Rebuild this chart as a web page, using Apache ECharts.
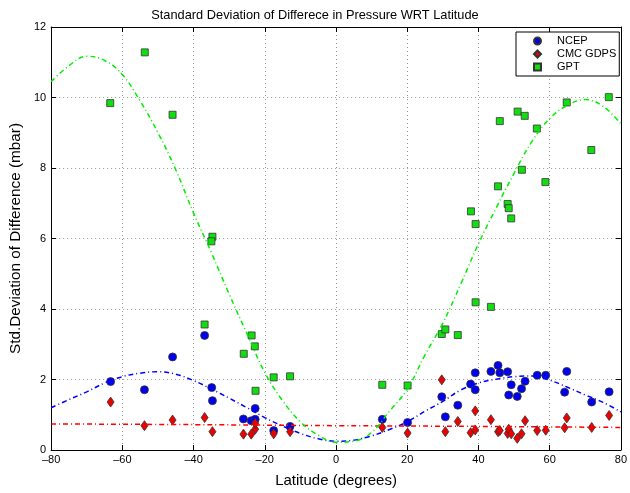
<!DOCTYPE html>
<html>
<head>
<meta charset="utf-8">
<script src="https://cdn.jsdelivr.net/npm/echarts@6/dist/echarts.min.js"></script>
<style>html,body{margin:0;padding:0;background:#fff}#c{width:630px;height:493px}</style>
</head>
<body>
<div id="c"></div>
<script>
// ---- data ----
var ncepLat = [-63.3,-53.8,-45.9,-36.9,-34.9,-34.7,-26.0,-23.8,-22.7,-22.7,-17.5,-12.9,13.0,20.1,29.7,30.7,34.2,37.8,39.1,39.1,43.5,45.5,46.0,48.2,48.5,49.2,50.9,52.1,53.1,56.5,58.9,64.2,64.8,71.8,76.7];
var ncepVal = [1.94,1.71,2.64,3.25,1.77,1.40,0.88,0.83,0.87,1.18,0.55,0.67,0.87,0.78,1.51,0.94,1.27,1.87,1.71,2.19,2.23,2.40,2.19,2.22,1.56,1.85,1.52,1.74,1.95,2.12,2.12,1.64,2.23,1.36,1.65];
var cmcLat = [-63.3,-53.8,-45.9,-36.9,-34.7,-26.0,-23.8,-22.7,-22.7,-17.5,-12.9,13.0,20.1,29.7,30.7,34.2,37.8,39.1,39.1,43.5,45.5,46.0,48.2,48.5,49.2,50.9,52.1,53.1,56.5,58.9,64.2,64.8,71.8,76.7];
var cmcVal = [1.36,0.69,0.85,0.92,0.52,0.45,0.45,0.59,0.76,0.46,0.52,0.64,0.48,1.99,0.52,0.81,0.49,0.57,1.11,0.86,0.52,0.55,0.47,0.59,0.46,0.33,0.46,0.83,0.55,0.56,0.63,0.91,0.64,0.98];
var gptLat = [-63.4,-53.7,-45.9,-36.9,-34.7,-35.0,-25.9,-23.7,-22.8,-22.6,-17.5,-12.9,13.0,20.1,29.7,30.7,34.2,37.9,39.2,39.2,43.5,45.5,46.0,48.2,48.5,49.2,51.0,52.2,53.0,56.4,58.8,64.8,71.7,76.6];
var gptVal = [9.84,11.28,9.51,3.56,6.05,5.92,2.73,3.25,2.94,1.68,2.06,2.09,1.85,1.83,3.29,3.42,3.26,6.77,6.41,4.19,4.06,7.48,9.33,6.98,6.86,6.57,9.60,7.95,9.48,9.12,7.60,9.86,8.51,10.01];

// fitted curves
var fitLat = [-80,-75,-70,-65,-60,-55,-50,-45,-40,-35,-30,-25,-20,-15,-10,-5,0,5,10,15,20,25,30,35,40,45,50,55,60,65,70,75,80];
var gptFit = [10.45,10.9,11.17,11.05,10.65,9.9,9.0,7.95,6.72,5.6,4.42,3.3,2.2,1.4,0.8,0.42,0.22,0.25,0.5,1.1,1.72,2.7,3.6,4.7,5.85,6.87,7.85,8.75,9.4,9.78,9.94,9.75,9.25];
var ncepFit = [1.2,1.43,1.65,1.9,2.08,2.18,2.22,2.15,1.97,1.73,1.47,1.2,0.92,0.68,0.47,0.32,0.25,0.28,0.4,0.58,0.8,1.1,1.38,1.7,1.9,2.01,2.08,2.1,1.98,1.78,1.56,1.35,1.08];
var cmcFitLat = [-80,-40,0,40,80];
var cmcFit = [0.74,0.72,0.69,0.67,0.64];

var xTicks = [-80,-60,-40,-20,0,20,40,60,80];
var yTicks = [0,2,4,6,8,10,12];

function pairs(a,b){return a.map(function(v,i){return [v,b[i]];});}

var chart = echarts.init(document.getElementById('c'), null, {renderer:'canvas'});
var FONT = 'Liberation Sans, Arial, Helvetica, sans-serif';
var dash = [5,3,1,3];
var axisCommon = {
  axisLine:{show:true,onZero:false,lineStyle:{color:'#000',width:1}},
  axisTick:{show:true,inside:true,length:5,lineStyle:{color:'#000'}}
};
chart.setOption({
  animation:false,
  backgroundColor:'#fff',
  title:{text:'Standard Deviation of Differece in Pressure WRT Latitude',left:'center',top:4,
    textStyle:{fontFamily:FONT,fontSize:12.8,fontWeight:'normal',color:'#000'}},
  grid:{left:48,right:7,top:27,bottom:34},
  legend:{
    data:[{name:'NCEP',icon:'circle'},{name:'CMC GDPS',icon:'diamond'},{name:'GPT',icon:'rect'}],
    orient:'vertical',left:516,top:32,
    backgroundColor:'#fff',borderColor:'#000',borderWidth:1,borderRadius:0,
    padding:[3,3,3,17],itemGap:1,itemWidth:7,itemHeight:7,
    textStyle:{fontFamily:FONT,fontSize:11,lineHeight:12,color:'#000',padding:[0,0,0,11]}
  },
  xAxis:[
    Object.assign({type:'value',min:-80,max:80,interval:20,position:'bottom',
      name:'Latitude (degrees)',nameLocation:'middle',nameGap:23,
      nameTextStyle:{fontFamily:FONT,fontSize:15,color:'#000'},
      axisLabel:{fontFamily:FONT,fontSize:11,color:'#000',margin:4,
        formatter:function(v){return xTicks.indexOf(v)>=0?String(v).replace('-','\u2013'):'';}},
      splitLine:{show:true,lineStyle:{color:'#999',type:[1,3],width:1}}},axisCommon),
    Object.assign({type:'value',min:-80,max:80,interval:20,position:'top',
      axisLabel:{show:false},splitLine:{show:false}},axisCommon)
  ],
  yAxis:[
    Object.assign({type:'value',min:0,max:12,interval:2,position:'left',
      name:'Std.Deviation of Difference (mbar)',nameLocation:'middle',nameGap:15,
      nameTextStyle:{fontFamily:FONT,fontSize:15.3,color:'#000'},
      axisLabel:{fontFamily:FONT,fontSize:11,color:'#000',margin:5,
        formatter:function(v){return yTicks.indexOf(v)>=0?String(v):'';}},
      splitLine:{show:true,lineStyle:{color:'#999',type:[1,3],width:1}}},axisCommon),
    Object.assign({type:'value',min:0,max:12,interval:2,position:'right',
      axisLabel:{show:false},splitLine:{show:false}},axisCommon)
  ],
  series:[
    {name:'NCEP',type:'scatter',data:pairs(ncepLat,ncepVal),symbol:'circle',symbolSize:8,z:3,
      itemStyle:{color:'#0000ee',borderColor:'#333',borderWidth:0.8,opacity:1}},
    {name:'CMC GDPS',type:'scatter',data:pairs(cmcLat,cmcVal),symbol:'diamond',symbolSize:[7,10],z:4,
      itemStyle:{color:'#ee0000',borderColor:'#333',borderWidth:0.8,opacity:1}},
    {name:'GPT',type:'scatter',data:pairs(gptLat,gptVal),symbol:'rect',symbolSize:7,z:5,
      itemStyle:{color:'#11dd11',borderColor:'#333',borderWidth:0.8,opacity:1}},
    {name:'NCEP fit',type:'line',data:pairs(fitLat,ncepFit),smooth:0.4,symbol:'none',z:6,
      lineStyle:{color:'#0000ff',width:1.5,type:dash}},
    {name:'CMC fit',type:'line',data:pairs(cmcFitLat,cmcFit),smooth:0.4,symbol:'none',z:6,
      lineStyle:{color:'#ff0000',width:1.5,type:dash}},
    {name:'GPT fit',type:'line',data:pairs(fitLat,gptFit),smooth:0.4,symbol:'none',z:6,
      lineStyle:{color:'#00ee00',width:1.5,type:dash}}
  ]
});
</script>
</body>
</html>
